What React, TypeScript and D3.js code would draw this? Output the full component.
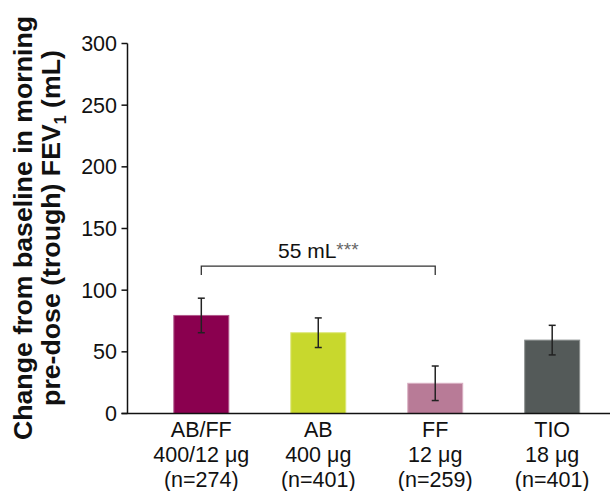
import React from "react";
import * as d3 from "d3";

const categories = ["AB/FF", "AB", "FF", "TIO"];
const doses = ["400/12 μg", "400 μg", "12 μg", "18 μg"];
const counts = ["(n=274)", "(n=401)", "(n=259)", "(n=401)"];
const means = [79.5, 65.5, 24.5, 59.5];
const lower = [65.5, 53.5, 10.5, 47.5];
const upper = [93.5, 77.5, 38.5, 71.5];
const colors = ["#8A004F", "#C8D82D", "#B87B97", "#545A59"];
const strokes = ["#B25A8C", "#DDE77A", "#D9AFC2", "#8A8F8E"];
const yTicks = [0, 50, 100, 150, 200, 250, 300];
const bracketFrom = 0;
const bracketTo = 2;
const bracketValue = 119.5;
const bracketLabel = "55 mL";
const bracketStars = "***";

const W = 610;
const H = 491;
const axisX = 127.5;

export default function App() {
  const y = d3.scaleLinear().domain([0, 300]).range([413.5, 43.5]);
  const x = d3
    .scaleBand<string>()
    .domain(categories)
    .range([axisX, 626])
    .paddingInner(0.53)
    .paddingOuter(0.396);
  const bw = x.bandwidth();
  const cx = (c: string) => (x(c) ?? 0) + bw / 2;
  const font = "Arial, 'Liberation Sans', Helvetica, sans-serif";
  const by = y(bracketValue);
  const bx1 = cx(categories[bracketFrom]);
  const bx2 = cx(categories[bracketTo]);

  return (
    <svg
      width={W}
      height={H}
      viewBox={`0 0 ${W} ${H}`}
      style={{ position: "absolute", left: 0, top: 0, background: "#fff" }}
      fontFamily={font}
    >
      {/* y-axis title */}
      <g transform={`translate(32,228) rotate(-90)`} fontWeight="bold" fontSize={26.7} fill="#111" textAnchor="middle">
        <text x={0} y={0}>Change from baseline in morning</text>
        <text x={0} y={27.5}>
          pre-dose (trough) FEV
          <tspan fontSize={16} dy={6}>1</tspan>
          <tspan dy={-6}> (mL)</tspan>
        </text>
      </g>

      {/* bars */}
      {categories.map((c, i) => (
        <rect
          key={c}
          x={x(c)}
          y={y(means[i])}
          width={bw}
          height={y(0) - y(means[i])}
          fill={colors[i]}
          stroke={strokes[i]}
          strokeWidth={1}
        />
      ))}

      {/* error bars */}
      {categories.map((c, i) => (
        <g key={c} stroke="#222" strokeWidth={1.5}>
          <line x1={cx(c)} x2={cx(c)} y1={y(upper[i])} y2={y(lower[i])} />
          <line x1={cx(c) - 3.5} x2={cx(c) + 3.5} y1={y(upper[i])} y2={y(upper[i])} />
          <line x1={cx(c) - 3.5} x2={cx(c) + 3.5} y1={y(lower[i])} y2={y(lower[i])} />
        </g>
      ))}

      {/* y axis */}
      <line x1={axisX} x2={axisX} y1={y(300)} y2={y(0)} stroke="#111" strokeWidth={1.5} />
      {yTicks.map((t) => (
        <g key={t}>
          <line x1={axisX - 6} x2={axisX} y1={y(t)} y2={y(t)} stroke="#111" strokeWidth={1.5} />
          <text x={117} y={y(t) + 7.5} fontSize={21.5} textAnchor="end" fill="#111">
            {t}
          </text>
        </g>
      ))}

      {/* x axis */}
      <line x1={axisX - 6} x2={W} y1={y(0)} y2={y(0)} stroke="#111" strokeWidth={1.5} />

      {/* category labels */}
      {categories.map((c, i) => (
        <text key={c} x={cx(c)} textAnchor="middle" fontSize={21.5} fill="#111">
          <tspan x={cx(c)} y={437}>{c}</tspan>
          <tspan x={cx(c)} y={462.3}>{doses[i]}</tspan>
          <tspan x={cx(c)} y={486.5}>{counts[i]}</tspan>
        </text>
      ))}

      {/* bracket */}
      <path
        d={`M${bx1},${by + 9}V${by}H${bx2}V${by + 9}`}
        fill="none"
        stroke="#333"
        strokeWidth={1.3}
      />
      <text x={(bx1 + bx2) / 2} y={258} textAnchor="middle" fontSize={21} fill="#111">
        {bracketLabel}
        <tspan fill="#666" fontSize={19} dy={-2}>{bracketStars}</tspan>
      </text>
    </svg>
  );
}
